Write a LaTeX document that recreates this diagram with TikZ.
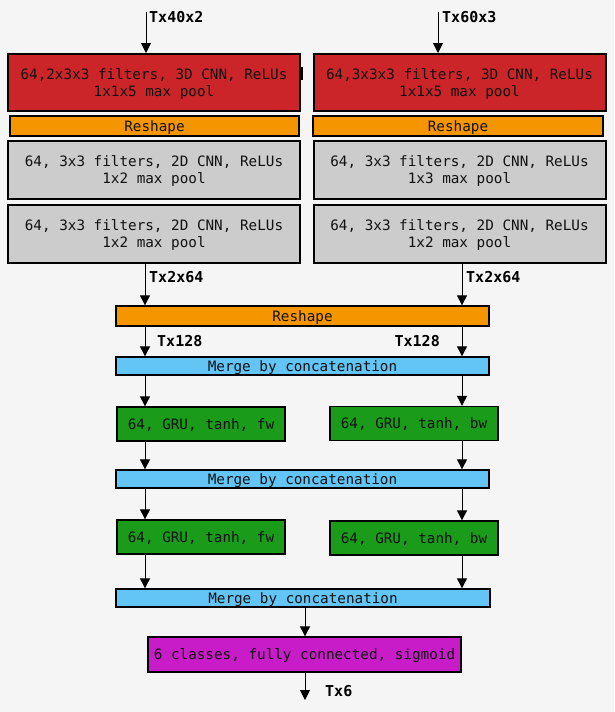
\documentclass[tikz,border=0pt]{standalone}
\usepackage{fontspec}
\setmonofont{DejaVu Sans Mono}
\usetikzlibrary{arrows.meta}
\definecolor{bg}{HTML}{F5F5F5}
\definecolor{cred}{HTML}{CC2529}
\definecolor{corange}{HTML}{F59500}
\definecolor{cgray}{HTML}{CCCCCC}
\definecolor{cblue}{HTML}{63C5F5}
\definecolor{cgreen}{HTML}{1A9B1A}
\definecolor{cmag}{HTML}{C81CC8}
\definecolor{ctext}{HTML}{111111}
\newcommand{\bx}[1]{\raisebox{-1.7pt}[\height][\depth]{\begin{tabular}{@{}c@{}}#1\end{tabular}}}
\tikzset{
  box/.style={draw=black, line width=1.3pt, inner sep=0pt, text=ctext,
    font=\ttfamily\fontsize{14.3}{17}\selectfont},
  thickbox/.style={box, line width=2pt},
  redbox/.style={thickbox, fill=cred, minimum width=292pt, minimum height=57pt},
  graybox/.style={thickbox, fill=cgray, minimum width=292pt, minimum height=58pt},
  orangebox/.style={box, fill=corange},
  bluebox/.style={box, fill=cblue, minimum width=373pt, minimum height=18pt},
  greenbox/.style={box, fill=cgreen, minimum width=168pt, minimum height=34pt},
  magbox/.style={box, fill=cmag, minimum width=313pt, minimum height=35pt},
  lbl/.style={font=\ttfamily\bfseries\fontsize{15}{17}\selectfont, inner sep=0pt, text=black},
  arr/.style={draw=black, line width=0.9pt, -{Triangle[length=10pt,width=10pt]}}
}
\begin{document}
\begin{tikzpicture}[x=1pt,y=-1pt]
\fill[bg] (0,0) rectangle (614,712);
\useasboundingbox (0,0) rectangle (614,712);
% first block
\node[redbox] (r1) at (154,82.5) {\bx{64,2x3x3 filters, 3D CNN, ReLUs\\1x1x5 max pool}};
\node[redbox] (r2) at (459.5,82.5) {\bx{64,3x3x3 filters, 3D CNN, ReLUs\\1x1x5 max pool}};
\fill[black] (300.5,67) rectangle (303,80);
\node[orangebox, minimum width=289pt, minimum height=20pt] (o1) at (154.5,126) {\bx{Reshape}};
\node[orangebox, minimum width=290pt, minimum height=20pt] (o2) at (458,126) {\bx{Reshape}};
\node[graybox] (g1) at (154,170) {\bx{64, 3x3 filters, 2D CNN, ReLUs\\1x2 max pool}};
\node[graybox] (g2) at (459.5,170) {\bx{64, 3x3 filters, 2D CNN, ReLUs\\1x3 max pool}};
\node[graybox] (g3) at (154,233.5) {\bx{64, 3x3 filters, 2D CNN, ReLUs\\1x2 max pool}};
\node[graybox] (g4) at (459.5,233.5) {\bx{64, 3x3 filters, 2D CNN, ReLUs\\1x2 max pool}};
% inputs
\coordinate (in1) at (146,12);
\coordinate (in2) at (438,12);
\draw[arr] (in1) -- (in1 |- r1.north);
\draw[arr] (in2) -- (in2 |- r2.north);
\node[lbl, anchor=west] (l1) at (149,17) {Tx40x2};
\node[lbl, anchor=west] (l2) at (442,17) {Tx60x3};
% reshape
\node[orangebox, minimum width=373pt, minimum height=20pt] (rs) at (302.5,316) {\bx{Reshape}};
\coordinate (ca) at (145,0);
\coordinate (cb) at (462,0);
\draw[arr] (g3.south -| ca) -- (rs.north -| ca);
\draw[arr] (g4.south -| cb) -- (rs.north -| cb);
\node[lbl, anchor=west] (l3) at (149,277) {Tx2x64};
\node[lbl, anchor=west] (l4) at (466,277) {Tx2x64};
% merge 1
\node[bluebox] (m1) at (302.5,366) {\bx{Merge by concatenation}};
\draw[arr] (rs.south -| ca) -- (m1.north -| ca);
\draw[arr] (rs.south -| cb) -- (m1.north -| cb);
\node[lbl, anchor=west] (l5) at (157,341) {Tx128};
\node[lbl, anchor=east] (l6) at (440,341) {Tx128};
% GRU 1
\node[greenbox] (f1) at (201,424) {\bx{64, GRU, tanh, fw}};
\node[greenbox] (b1) at (414,423.5) {\bx{64, GRU, tanh, bw}};
\draw[arr] (m1.south -| ca) -- (f1.north -| ca);
\draw[arr] (m1.south -| cb) -- (b1.north -| cb);
% merge 2
\node[bluebox] (m2) at (302.5,479) {\bx{Merge by concatenation}};
\draw[arr] (f1.south -| ca) -- (m2.north -| ca);
\draw[arr] (b1.south -| cb) -- (m2.north -| cb);
% GRU 2
\node[greenbox] (f2) at (201,537) {\bx{64, GRU, tanh, fw}};
\node[greenbox] (b2) at (414,538) {\bx{64, GRU, tanh, bw}};
\draw[arr] (m2.south -| ca) -- (f2.north -| ca);
\draw[arr] (m2.south -| cb) -- (b2.north -| cb);
% merge 3
\node[bluebox, minimum width=374pt] (m3) at (303,598) {\bx{Merge by concatenation}};
\draw[arr] (f2.south -| ca) -- (m3.north -| ca);
\draw[arr] (b2.south -| cb) -- (m3.north -| cb);
% output
\node[magbox] (fc) at (304.5,654.5) {\bx{6 classes, fully connected, sigmoid}};
\coordinate (cc) at (305,0);
\draw[arr] (m3.south -| cc) -- (fc.north -| cc);
\coordinate (out) at (305,700);
\draw[arr] (fc.south -| cc) -- (out);
\node[lbl, anchor=west] (l7) at (325,691) {Tx6};
\end{tikzpicture}
\end{document}
